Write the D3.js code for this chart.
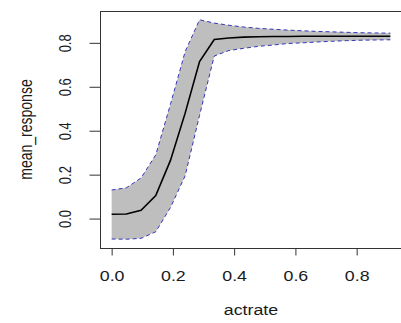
<!DOCTYPE html>
<html>
<head>
<meta charset="utf-8">
<script src="https://cdn.jsdelivr.net/npm/d3@7"></script>
<style>
  html, body { margin: 0; padding: 0; background: #fff; }
  svg { display: block; }
  text { font-family: "Liberation Sans", Arial, sans-serif; fill: #1a1a1a; }
</style>
</head>
<body>
<script>
// ---- data ----
const actrate = [0, 0.048, 0.096, 0.144, 0.192, 0.240, 0.287, 0.335, 0.383, 0.431,
                 0.479, 0.527, 0.575, 0.623, 0.671, 0.718, 0.766, 0.814, 0.862, 0.910];
const meanResponse = [0.020, 0.021, 0.038, 0.105, 0.265, 0.480, 0.715, 0.815, 0.822, 0.826,
                      0.828, 0.829, 0.829, 0.830, 0.830, 0.830, 0.830, 0.830, 0.830, 0.830];
const upperBand = [0.130, 0.140, 0.185, 0.290, 0.520, 0.760, 0.905, 0.890, 0.880, 0.872,
                   0.866, 0.862, 0.858, 0.855, 0.852, 0.850, 0.848, 0.846, 0.845, 0.844];
const lowerBand = [-0.093, -0.094, -0.090, -0.060, 0.050, 0.195, 0.470, 0.740, 0.765, 0.775,
                   0.784, 0.790, 0.797, 0.800, 0.804, 0.807, 0.810, 0.812, 0.813, 0.814];
const xTicks = [0.0, 0.2, 0.4, 0.6, 0.8];
const yTicks = [0.0, 0.2, 0.4, 0.6, 0.8];
const xLabel = "actrate";
const yLabel = "mean_response";

// ---- layout ----
const W = 401, H = 323;
const box = { left: 100.5, right: 401.5, top: 11, bottom: 248 };
const sx = 1.27; // horizontal stretch of the original image

function pad(ext) { const d = (ext[1] - ext[0]) * 0.04; return [ext[0] - d, ext[1] + d]; }
const xlim = pad(d3.extent(actrate));
const ylim = pad([d3.min(lowerBand), d3.max(upperBand)]);

const x = d3.scaleLinear().domain(xlim).range([box.left, box.right]);
const y = d3.scaleLinear().domain(ylim).range([box.bottom, box.top]);

const svg = d3.select("body").append("svg").attr("width", W).attr("height", H);
svg.append("rect").attr("width", W).attr("height", H).attr("fill", "#fff");

const pts = actrate.map((a, i) => ({ a, m: meanResponse[i], u: upperBand[i], l: lowerBand[i] }));

// band
svg.append("path")
  .datum(pts)
  .attr("d", d3.area().x(d => x(d.a)).y0(d => y(d.l)).y1(d => y(d.u)))
  .attr("fill", "#bebebe");

// dashed bounds
["u", "l"].forEach(k => {
  svg.append("path")
    .datum(pts)
    .attr("d", d3.line().x(d => x(d.a)).y(d => y(d[k])))
    .attr("fill", "none")
    .attr("stroke", "#3535b8")
    .attr("stroke-width", 1)
    .attr("stroke-dasharray", "4,3");
});

// mean line
svg.append("path")
  .datum(pts)
  .attr("d", d3.line().x(d => x(d.a)).y(d => y(d.m)))
  .attr("fill", "none")
  .attr("stroke", "#000")
  .attr("stroke-width", 1.6);

// box
svg.append("rect")
  .attr("x", box.left).attr("y", box.top + 0.5)
  .attr("width", box.right - box.left).attr("height", box.bottom - box.top)
  .attr("fill", "none").attr("stroke", "#333").attr("stroke-width", 1);

// x axis
const gx = svg.append("g").attr("transform", `translate(0,${box.bottom + 0.5})`)
  .call(d3.axisBottom(x).tickValues(xTicks).tickSize(7).tickFormat(d3.format(".1f")));
gx.select(".domain").remove();
gx.selectAll(".tick line").attr("stroke", "#333");
gx.selectAll(".tick text")
  .attr("y", 0).attr("dy", null)
  .attr("transform", "translate(0,32) scale(" + sx + ",1)")
  .style("font-size", "14px").attr("fill", "#1a1a1a");

// y axis
const gy = svg.append("g").attr("transform", `translate(${box.left},0)`)
  .call(d3.axisLeft(y).tickValues(yTicks).tickSize(11).tickFormat(d3.format(".1f")));
gy.select(".domain").remove();
gy.selectAll(".tick line").attr("stroke", "#333");
gy.selectAll(".tick text")
  .attr("x", 0).attr("dy", null)
  .attr("text-anchor", "middle")
  .attr("transform", `translate(${71 - box.left},0) scale(${sx},1) rotate(-90)`)
  .style("font-size", "13px").attr("fill", "#1a1a1a");

// axis titles
svg.append("text")
  .attr("transform", `translate(${(box.left + box.right) / 2},315) scale(${sx},1)`)
  .attr("text-anchor", "middle")
  .style("font-size", "14px")
  .text(xLabel);

svg.append("text")
  .attr("transform", `translate(32,${(box.top + box.bottom) / 2}) scale(${sx},1) rotate(-90)`)
  .attr("text-anchor", "middle")
  .style("font-size", "14px")
  .text(yLabel);
</script>
</body>
</html>
